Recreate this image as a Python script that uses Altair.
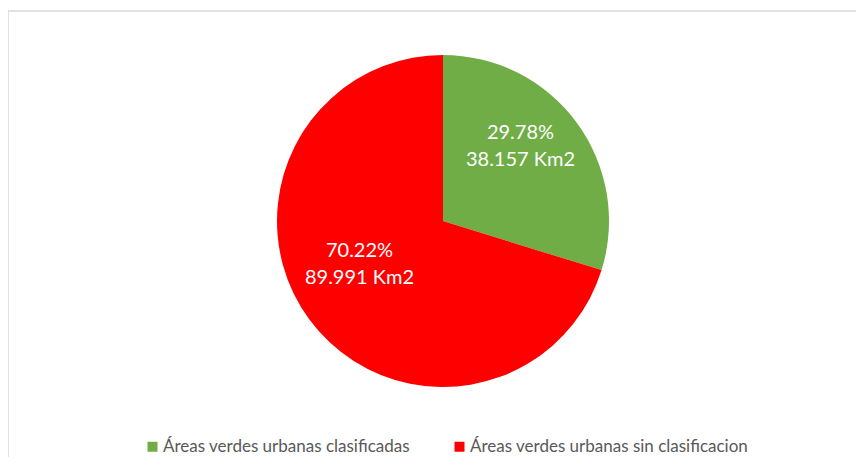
import altair as alt
import pandas as pd

categories = ["Áreas verdes urbanas clasificadas", "Áreas verdes urbanas sin clasificacion"]
percent = [29.78, 70.22]
area_km2 = ["38.157", "89.991"]
colors = ["#70AD47", "#FF0000"]
order = [0, 1]

W, H = 848, 446

df = pd.DataFrame({"cat": categories, "pct": percent, "km2": area_km2, "order": order})
df["label"] = [f"{p:.2f}%\n{a} Km2" for p, a in zip(percent, area_km2)]

base = alt.Chart(df).encode(
    theta=alt.Theta("pct:Q", stack=True),
    order=alt.Order("order:Q"),
    x=alt.value(435),
    y=alt.value(210),
)

arc = base.mark_arc(radius=166).encode(
    color=alt.Color(
        "cat:N",
        scale=alt.Scale(domain=categories, range=colors),
        legend=alt.Legend(
            orient="none",
            direction="horizontal",
            legendX=136,
            legendY=427,
            title=None,
            symbolType="square",
            symbolSize=100,
            symbolStrokeWidth=0,
            labelFont="Lato",
            labelFontSize=17,
            labelColor="#595959",
            columnPadding=41,
            labelLimit=0,
            padding=0,
            labelOffset=2,
        ),
    )
)

text = base.mark_text(
    radius=100, dy=-29, dx=-3, lineBreak="\n", font="Lato", fontSize=20,
    color="white", lineHeight=27,
).encode(text="label:N")

frame = alt.Chart(pd.DataFrame({"k": [0]}))
top_rule = frame.mark_rule(color="#d9d9d9", strokeWidth=1.5).encode(
    x=alt.value(0), x2=alt.value(W), y=alt.value(0)
)
left_rule = frame.mark_rule(color="#d9d9d9", strokeWidth=1.5).encode(
    x=alt.value(0), y=alt.value(0), y2=alt.value(H)
)

chart = alt.layer(top_rule, left_rule, arc, text).properties(
    width=W, height=H,
    padding={"left": 0, "top": 3, "right": 0, "bottom": 0},
    autosize=alt.AutoSizeParams(type="none"),
).configure_view(strokeWidth=0)

chart.save("out.html", embed_options={"renderer": "svg", "actions": False})
